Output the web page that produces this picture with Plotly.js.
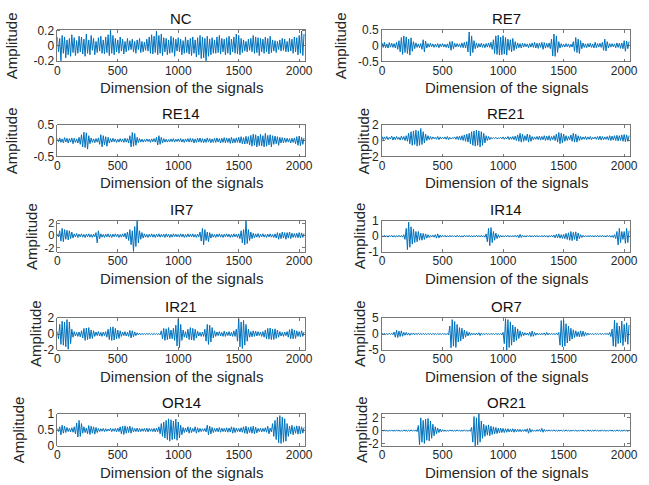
<!DOCTYPE html>
<html><head><meta charset="utf-8">
<script src="https://cdn.plot.ly/plotly-3.0.1.min.js"></script>
<style>html,body{margin:0;padding:0;background:#fff}#chart{width:649px;height:485px}</style>
</head><body><div id="chart"></div>
<script>
// Vibration signals: one value every 10 samples (0..2040)
const signalNames = ["NC","RE7","RE14","RE21","IR7","IR14","IR21","OR7","OR14","OR21"];
const sampleStep = 10;

const nc = [
0.12,-0.08,0.1,-0.2,0.14,-0.1,0.12,-0.16,0.08,-0.12,
0.1,-0.14,0.15,-0.09,0.11,-0.13,0.07,-0.1,0.13,-0.08,
0.12,-0.11,0.09,-0.14,0.16,-0.1,0.08,-0.12,0.14,-0.06,
0.1,-0.12,0.06,-0.09,0.11,-0.07,0.13,-0.1,0.08,-0.11,
0.12,-0.09,0.15,-0.13,0.21,-0.1,0.14,-0.12,0.1,-0.08,
0.08,-0.1,0.12,-0.07,0.09,-0.11,0.06,-0.08,0.1,-0.06,
0.07,-0.05,0.09,-0.08,0.06,-0.1,0.08,-0.05,0.1,-0.09,
0.06,-0.08,0.05,-0.06,0.09,-0.07,0.12,-0.1,0.15,-0.11,
0.13,-0.09,0.2,-0.12,0.14,-0.1,0.16,-0.13,0.11,-0.08,
0.1,-0.12,0.08,-0.1,0.13,-0.09,0.11,-0.14,0.09,-0.07,
0.11,-0.08,0.09,-0.12,0.07,-0.1,0.12,-0.09,0.08,-0.11,
0.1,-0.13,0.12,-0.1,0.08,-0.15,0.11,-0.12,0.14,-0.17,
0.12,-0.16,0.1,-0.2,0.13,-0.14,0.09,-0.12,0.11,-0.1,
0.08,-0.1,0.12,-0.09,0.14,-0.11,0.1,-0.08,0.09,-0.12,
0.11,-0.1,0.13,-0.12,0.09,-0.08,0.12,-0.1,0.16,-0.11,
0.14,-0.12,0.1,-0.09,0.08,-0.07,0.06,-0.08,0.09,-0.06,
0.1,-0.08,0.14,-0.1,0.12,-0.09,0.11,-0.13,0.1,-0.08,
0.09,-0.1,0.12,-0.08,0.1,-0.11,0.13,-0.09,0.08,-0.07,
0.07,-0.09,0.06,-0.05,0.08,-0.07,0.1,-0.06,0.09,-0.08,
0.06,-0.08,0.1,-0.07,0.09,-0.1,0.12,-0.08,0.11,-0.12,
0.14,-0.1,0.2,-0.13,0.16];

const re7 = [
0.08,-0.06,0.1,-0.07,0.05,-0.08,0.09,-0.05,0.07,-0.06,
0.06,-0.08,0.1,-0.12,0.15,-0.2,0.25,-0.28,0.3,-0.22,
0.27,-0.25,0.2,-0.3,0.24,-0.18,0.12,-0.1,0.08,-0.06,
0.05,-0.07,0.06,-0.12,0.18,-0.2,0.14,-0.08,0.06,-0.05,
0.07,-0.04,0.05,-0.06,0.04,-0.05,0.06,-0.07,0.05,-0.04,
0.06,-0.05,0.04,-0.06,0.05,-0.08,0.12,-0.15,0.13,-0.1,
0.07,-0.05,0.06,-0.04,0.05,-0.06,0.08,-0.07,0.1,-0.08,
0.12,-0.2,0.42,-0.32,0.3,-0.22,0.15,-0.1,0.08,-0.07,
0.06,-0.05,0.07,-0.06,0.05,-0.07,0.06,-0.05,0.08,-0.06,
0.1,-0.12,0.18,-0.25,0.3,-0.28,0.32,-0.3,0.26,-0.29,
0.31,-0.27,0.25,-0.3,0.2,-0.15,0.18,-0.2,0.22,-0.16,
0.12,-0.1,0.08,-0.07,0.06,-0.08,0.07,-0.05,0.06,-0.04,
0.05,-0.07,0.06,-0.05,0.08,-0.06,0.1,-0.08,0.07,-0.09,
0.08,-0.06,0.1,-0.12,0.09,-0.08,0.07,-0.06,0.08,-0.1,
0.2,-0.33,0.36,-0.34,0.3,-0.22,0.12,-0.08,0.06,-0.05,
0.04,-0.05,0.06,-0.04,0.05,-0.06,0.04,-0.05,0.12,-0.18,
0.25,-0.22,0.2,-0.25,0.15,-0.1,0.08,-0.06,0.05,-0.07,
0.06,-0.05,0.07,-0.06,0.05,-0.08,0.1,-0.07,0.06,-0.05,
0.07,-0.06,0.1,-0.15,0.2,-0.17,0.12,-0.08,0.06,-0.05,
0.06,-0.04,0.05,-0.07,0.08,-0.06,0.07,-0.09,0.08,-0.1,
0.15,-0.18,0.14,-0.1,0.12];

const re14 = [
0.06,-0.04,0.08,-0.06,0.05,-0.07,0.09,-0.05,0.07,-0.08,
0.06,-0.05,0.08,-0.1,0.07,-0.06,0.05,-0.08,0.1,-0.12,
0.18,-0.2,0.26,-0.22,0.24,-0.27,0.15,-0.1,0.08,-0.06,
0.05,-0.07,0.06,-0.05,0.08,-0.12,0.18,-0.2,0.15,-0.14,
0.12,-0.18,0.1,-0.08,0.06,-0.05,0.07,-0.04,0.05,-0.06,
0.04,-0.05,0.06,-0.04,0.05,-0.06,0.07,-0.05,0.06,-0.08,
0.15,-0.2,0.25,-0.18,0.22,-0.15,0.1,-0.07,0.06,-0.05,
0.04,-0.05,0.03,-0.04,0.05,-0.03,0.04,-0.06,0.05,-0.04,
0.06,-0.05,0.1,-0.14,0.15,-0.12,0.1,-0.08,0.06,-0.05,
0.04,-0.05,0.03,-0.04,0.05,-0.04,0.06,-0.05,0.04,-0.03,
0.05,-0.04,0.06,-0.05,0.04,-0.06,0.05,-0.04,0.06,-0.05,
0.07,-0.05,0.06,-0.08,0.05,-0.06,0.07,-0.05,0.08,-0.06,
0.06,-0.07,0.05,-0.06,0.08,-0.05,0.06,-0.07,0.05,-0.06,
0.07,-0.06,0.08,-0.05,0.06,-0.08,0.07,-0.06,0.09,-0.07,
0.08,-0.06,0.07,-0.09,0.1,-0.08,0.06,-0.07,0.08,-0.06,
0.1,-0.08,0.12,-0.1,0.09,-0.11,0.13,-0.1,0.12,-0.14,
0.16,-0.18,0.2,-0.15,0.18,-0.2,0.14,-0.16,0.19,-0.17,
0.15,-0.2,0.22,-0.18,0.16,-0.14,0.18,-0.2,0.15,-0.12,
0.14,-0.1,0.12,-0.15,0.1,-0.08,0.09,-0.07,0.08,-0.06,
0.07,-0.05,0.06,-0.08,0.07,-0.06,0.08,-0.1,0.12,-0.15,
0.14,-0.16,0.1,-0.12,0.08];

const re21 = [
0.5,0.1,0.45,0.15,0.5,0.1,0.4,0.2,0.55,0.05,
0.45,0.1,0.5,0.15,0.4,0.05,0.55,0.1,0.5,0.0,
0.6,-0.1,0.9,-0.4,1.1,-0.6,1.2,-0.5,1.3,-0.7,
1.2,-0.6,1.5,-0.5,1.1,-0.3,0.8,0.0,0.6,0.1,
0.5,0.15,0.45,0.2,0.4,0.15,0.5,0.1,0.45,0.2,
0.4,0.2,0.45,0.15,0.5,0.1,0.4,0.2,0.35,0.25,
0.45,0.15,0.5,0.1,0.55,0.05,0.6,0.0,0.7,-0.1,
0.8,-0.2,0.9,-0.4,1.1,-0.6,1.2,-0.7,1.3,-0.6,
1.2,-0.8,1.1,-0.6,0.9,-0.3,0.6,0.0,0.5,0.1,
0.4,0.2,0.35,0.25,0.4,0.2,0.35,0.25,0.4,0.2,
0.45,0.15,0.4,0.2,0.5,0.1,0.45,0.15,0.5,0.1,
0.55,0.0,0.7,-0.1,0.9,-0.2,0.8,-0.1,0.6,0.0,
0.8,-0.2,0.7,-0.1,0.5,0.1,0.45,0.15,0.5,0.1,
0.55,0.05,0.5,0.1,0.6,0.0,0.55,0.05,0.6,0.0,
0.5,0.1,0.6,0.0,0.8,-0.2,1.0,-0.4,0.9,-0.3,
0.8,-0.1,0.6,0.0,0.5,0.1,0.7,-0.1,0.9,-0.2,
0.8,-0.2,0.6,0.0,0.5,0.1,0.45,0.15,0.5,0.1,
0.45,0.15,0.5,0.1,0.4,0.2,0.45,0.15,0.5,0.1,
0.55,0.05,0.5,0.1,0.45,0.15,0.5,0.05,0.6,0.0,
0.55,0.05,0.6,0.0,0.65,-0.05,0.6,0.0,0.7,-0.1,
0.75,-0.15,0.7,-0.1,0.6];

const ir7 = [
0.3,-0.2,0.8,-0.9,1.2,-1.0,1.0,-0.6,0.9,-0.7,
0.8,-0.5,0.6,-0.4,0.3,-0.2,0.35,-0.3,0.25,-0.2,
0.3,-0.25,0.2,-0.3,0.25,-0.2,0.3,-0.25,0.2,-0.3,
0.25,-0.2,0.5,-1.2,0.8,-0.5,0.3,-0.25,0.2,-0.3,
0.25,-0.2,0.3,-0.25,0.2,-0.3,0.25,-0.2,0.3,-0.2,
0.25,-0.3,0.2,-0.25,0.3,-0.2,0.4,-0.5,0.6,-0.8,
1.0,-1.5,0.8,-2.6,1.5,-1.8,2.5,-1.2,0.8,-0.6,
0.5,-0.4,0.3,-0.25,0.2,-0.3,0.25,-0.2,0.3,-0.25,
0.2,-0.3,0.25,-0.2,0.3,-0.25,0.2,-0.2,0.25,-0.3,
0.3,-0.2,0.25,-0.3,0.2,-0.25,0.3,-0.2,0.25,-0.2,
0.2,-0.25,0.3,-0.2,0.25,-0.3,0.2,-0.25,0.3,-0.2,
0.25,-0.2,0.3,-0.25,0.2,-0.3,0.25,-0.2,0.6,-0.9,
1.2,-1.5,1.0,-0.8,0.6,-1.0,0.5,-0.4,0.3,-0.25,
0.2,-0.3,0.25,-0.2,0.3,-0.25,0.2,-0.3,0.25,-0.2,
0.3,-0.2,0.25,-0.3,0.2,-0.25,0.3,-0.2,0.25,-0.3,
0.3,-0.5,0.8,-1.2,1.0,-1.5,2.5,-1.3,1.0,-0.8,
0.6,-0.5,0.4,-0.35,0.3,-0.25,0.35,-0.3,0.25,-0.2,
0.3,-0.25,0.2,-0.3,0.25,-0.2,0.3,-0.25,0.2,-0.3,
0.3,-0.4,0.5,-0.6,0.4,-0.5,0.6,-0.4,0.5,-0.6,
0.5,-0.4,0.6,-0.5,0.4,-0.3,0.35,-0.3,0.4,-0.35,
0.5,-0.4,0.45,-0.3,0.35];

const ir14 = [
0.05,-0.04,0.06,-0.05,0.04,-0.06,0.05,-0.04,0.06,-0.05,
0.05,-0.06,0.04,-0.05,0.06,-0.04,0.05,-0.06,0.1,-0.2,
0.5,-0.85,0.9,-0.7,0.6,-0.5,0.45,-0.4,0.3,-0.35,
0.3,-0.25,0.2,-0.25,0.18,-0.2,0.15,-0.12,0.1,-0.08,
0.06,-0.05,0.07,-0.06,0.1,-0.12,0.15,-0.1,0.08,-0.06,
0.05,-0.04,0.06,-0.05,0.04,-0.05,0.06,-0.04,0.05,-0.04,
0.04,-0.05,0.06,-0.04,0.05,-0.06,0.04,-0.05,0.06,-0.04,
0.05,-0.04,0.06,-0.05,0.04,-0.05,0.05,-0.04,0.06,-0.05,
0.05,-0.04,0.06,-0.05,0.04,-0.06,0.15,-0.35,0.5,-0.6,
0.55,-0.4,0.3,-0.25,0.2,-0.15,0.1,-0.08,0.06,-0.05,
0.04,-0.05,0.05,-0.04,0.06,-0.05,0.04,-0.05,0.05,-0.04,
0.06,-0.05,0.08,-0.1,0.12,-0.08,0.06,-0.05,0.04,-0.05,
0.05,-0.04,0.06,-0.05,0.04,-0.05,0.06,-0.04,0.05,-0.05,
0.04,-0.05,0.05,-0.04,0.06,-0.05,0.04,-0.06,0.05,-0.04,
0.06,-0.05,0.08,-0.1,0.12,-0.1,0.15,-0.12,0.1,-0.14,
0.12,-0.15,0.18,-0.2,0.22,-0.25,0.3,-0.28,0.25,-0.2,
0.28,-0.3,0.2,-0.15,0.1,-0.08,0.06,-0.05,0.04,-0.05,
0.05,-0.04,0.06,-0.05,0.04,-0.05,0.05,-0.04,0.06,-0.05,
0.05,-0.04,0.06,-0.05,0.04,-0.05,0.06,-0.04,0.05,-0.06,
0.05,-0.08,0.1,-0.15,0.3,-0.55,0.5,-0.4,0.3,-0.2,
0.3,-0.45,0.5,-0.4,0.35];

const ir21 = [
0.3,-0.6,1.2,-1.3,1.6,-1.4,1.5,-1.6,1.8,-1.9,
1.5,-1.2,0.6,-0.4,0.3,-0.25,0.2,-0.3,0.25,-0.35,
0.4,-0.5,0.7,-0.8,0.75,-0.7,0.8,-0.6,0.5,-0.55,
0.4,-0.3,0.25,-0.2,0.3,-0.25,0.2,-0.3,0.25,-0.2,
0.3,-0.4,0.6,-0.7,0.85,-0.8,0.9,-0.75,0.7,-0.6,
0.5,-0.55,0.4,-0.3,0.25,-0.2,0.3,-0.25,0.2,-0.3,
0.45,-0.5,0.4,-0.35,0.25,-0.2,0.15,-0.12,0.1,-0.1,
0.08,-0.07,0.06,-0.08,0.07,-0.06,0.08,-0.07,0.06,-0.08,
0.07,-0.06,0.08,-0.07,0.06,-0.1,0.4,-0.6,0.7,-0.8,
0.65,-0.7,0.8,-0.6,0.5,-0.6,0.7,-0.8,1.1,-1.5,
1.9,-1.7,1.2,-0.8,0.5,-0.4,0.3,-0.5,0.6,-0.7,
0.8,-0.75,0.7,-0.8,0.6,-0.5,0.35,-0.25,0.2,-0.3,
0.25,-0.3,0.6,-0.9,1.2,-1.3,1.1,-1.0,0.8,-0.5,
0.4,-0.3,0.25,-0.2,0.3,-0.25,0.2,-0.3,0.35,-0.3,
0.25,-0.2,0.3,-0.25,0.2,-0.3,0.4,-0.3,0.6,-0.9,
1.9,-1.6,1.5,-1.8,1.7,-1.4,1.2,-0.9,0.6,-0.4,
0.3,-0.35,0.4,-0.3,0.35,-0.25,0.3,-0.2,0.25,-0.3,
0.3,-0.4,0.5,-0.6,0.7,-0.65,0.75,-0.7,0.6,-0.7,
0.65,-0.55,0.5,-0.4,0.3,-0.25,0.2,-0.3,0.25,-0.2,
0.3,-0.4,0.55,-0.6,0.65,-0.6,0.5,-0.55,0.4,-0.3,
0.3,-0.35,0.4,-0.3,0.25];

const or7 = [
0.2,-0.15,0.25,-0.2,0.15,-0.2,0.25,-0.15,0.2,-0.25,
0.6,-1.0,1.2,-1.1,0.9,-0.8,1.0,-0.7,0.5,-0.4,
0.5,-0.35,0.3,-0.4,0.25,-0.2,0.3,-0.25,0.2,-0.15,
0.2,-0.15,0.15,-0.2,0.2,-0.15,0.15,-0.2,0.2,-0.15,
0.15,-0.2,0.2,-0.15,0.15,-0.2,0.2,-0.15,0.15,-0.2,
0.2,-0.15,0.15,-0.2,0.2,-0.3,2.5,-4.3,4.5,-3.8,
3.9,-4.2,3.0,-2.5,2.0,-2.2,1.8,-1.5,1.2,-1.0,
0.8,-0.6,0.5,-0.4,0.3,-0.25,0.2,-0.3,0.3,-0.25,
0.4,-0.5,0.3,-0.2,0.15,-0.2,0.2,-0.15,0.15,-0.2,
0.2,-0.15,0.15,-0.2,0.2,-0.15,0.15,-0.2,0.2,-0.3,
0.5,-3.0,4.8,-5.0,4.5,-4.2,3.8,-3.5,2.8,-2.5,
2.2,-2.0,1.6,-1.4,1.0,-0.8,0.6,-0.5,0.4,-0.3,
0.3,-0.4,0.6,-0.8,0.9,-0.7,0.5,-0.4,0.3,-0.25,
0.2,-0.3,0.25,-0.2,0.3,-0.4,0.5,-0.3,0.25,-0.2,
0.2,-0.15,0.15,-0.2,0.25,-0.3,0.5,-3.5,4.2,-4.0,
4.3,-3.8,3.2,-2.8,2.5,-2.2,1.8,-1.6,1.3,-1.1,
1.0,-0.8,0.7,-0.9,1.0,-0.8,0.9,-0.7,0.5,-0.4,
0.3,-0.25,0.2,-0.15,0.15,-0.2,0.2,-0.15,0.15,-0.2,
0.2,-0.15,0.15,-0.2,0.2,-0.15,0.2,-0.3,0.5,-0.8,
1.5,-3.8,4.3,-4.0,3.5,-3.0,2.5,-2.8,4.0,-3.6,
3.0,-2.4,3.5,-3.2,2.8];

const or14 = [
0.55,0.45,0.6,0.35,0.65,0.4,0.62,0.42,0.58,0.45,
0.55,0.44,0.57,0.43,0.6,0.38,0.72,0.28,0.8,0.3,
0.7,0.4,0.6,0.42,0.56,0.38,0.64,0.36,0.62,0.4,
0.6,0.37,0.58,0.42,0.55,0.45,0.54,0.46,0.55,0.45,
0.54,0.46,0.53,0.47,0.55,0.45,0.54,0.46,0.55,0.44,
0.56,0.45,0.6,0.38,0.62,0.36,0.63,0.4,0.6,0.42,
0.62,0.4,0.58,0.44,0.55,0.45,0.56,0.44,0.55,0.45,
0.54,0.46,0.55,0.45,0.56,0.44,0.55,0.46,0.54,0.45,
0.55,0.44,0.56,0.45,0.6,0.38,0.7,0.3,0.75,0.25,
0.8,0.2,0.85,0.15,0.82,0.2,0.78,0.22,0.84,0.18,
0.75,0.25,0.65,0.35,0.58,0.42,0.56,0.44,0.6,0.4,
0.58,0.42,0.55,0.45,0.6,0.4,0.57,0.43,0.55,0.45,
0.54,0.46,0.55,0.44,0.65,0.35,0.62,0.38,0.58,0.42,
0.55,0.45,0.56,0.44,0.58,0.43,0.56,0.45,0.55,0.44,
0.57,0.43,0.56,0.44,0.6,0.4,0.58,0.42,0.56,0.45,
0.55,0.44,0.57,0.43,0.6,0.4,0.62,0.38,0.58,0.42,
0.6,0.4,0.62,0.38,0.59,0.41,0.55,0.45,0.56,0.44,
0.55,0.45,0.57,0.43,0.62,0.38,0.56,0.44,0.7,0.3,
0.8,0.2,0.9,0.1,0.95,0.08,0.9,0.12,0.85,0.15,
0.7,0.3,0.62,0.38,0.65,0.35,0.6,0.4,0.63,0.37,
0.62,0.38,0.6,0.4,0.58];

const or21 = [
0.1,-0.08,0.12,-0.1,0.08,-0.12,0.1,-0.08,0.12,-0.1,
0.08,-0.1,0.12,-0.08,0.1,-0.12,0.08,-0.1,0.12,-0.08,
0.1,-0.12,0.08,-0.1,0.12,-0.08,0.1,-0.1,0.12,-0.15,
0.8,-2.2,2.0,-1.8,1.6,-2.0,1.8,-1.5,1.9,-1.6,
1.5,-1.2,1.0,-0.8,0.6,-0.5,0.4,-0.3,0.25,-0.2,
0.15,-0.12,0.1,-0.12,0.08,-0.1,0.12,-0.08,0.1,-0.12,
0.08,-0.1,0.12,-0.08,0.1,-0.12,0.08,-0.1,0.12,-0.08,
0.1,-0.12,0.08,-0.1,0.5,-1.8,2.2,-2.4,2.0,-2.2,
2.6,-1.8,1.5,-1.2,1.0,-0.9,0.8,-0.7,0.9,-0.8,
0.7,-0.6,0.6,-0.5,0.5,-0.45,0.4,-0.35,0.4,-0.3,
0.35,-0.3,0.3,-0.25,0.3,-0.2,0.25,-0.2,0.3,-0.25,
0.25,-0.2,0.2,-0.15,0.2,-0.18,0.15,-0.12,0.2,-0.15,
0.3,-0.4,0.35,-0.25,0.15,-0.12,0.1,-0.12,0.15,-0.1,
0.2,-0.15,0.35,-0.25,0.2,-0.12,0.1,-0.08,0.12,-0.1,
0.1,-0.08,0.12,-0.1,0.08,-0.12,0.1,-0.08,0.12,-0.1,
0.08,-0.1,0.12,-0.08,0.1,-0.12,0.08,-0.1,0.12,-0.08,
0.1,-0.12,0.08,-0.1,0.12,-0.08,0.1,-0.12,0.08,-0.1,
0.12,-0.08,0.1,-0.12,0.08,-0.1,0.12,-0.08,0.1,-0.12,
0.08,-0.1,0.12,-0.08,0.1,-0.12,0.08,-0.1,0.12,-0.08,
0.1,-0.12,0.08,-0.1,0.12,-0.08,0.1,-0.12,0.08,-0.1,
0.12,-0.08,0.1,-0.12,0.08];

const signals = [nc, re7, re14, re21, ir7, ir14, ir21, or7, or14, or21];

const xTickVals = [0, 500, 1000, 1500, 2000];
const xTickText = ["0", "500", "1000", "1500", "2000"];
const yTickVals = [[-0.2,0,0.2],[-0.5,0,0.5],[-0.5,0,0.5],[-2,0,2],[-2,0,2],[-1,0,1],[-2,0,2],[-5,0,5],[0,0.5,1],[-2,0,2]];
const yTickText = [["-0.2","0","0.2"],["-0.5","0","0.5"],["-0.5","0","0.5"],["-2","0","2"],["-2","0","2"],["-1","0","1"],["-2","0","2"],["-5","0","5"],["0","0.5","1"],["-2","0","2"]];

// ---- layout ----
const W = 649, H = 485;
const FONT = "Liberation Sans, Arial, Helvetica, sans-serif";
const TXT = "#262626";
const colPx = [[57.3, 305], [382, 630]];
const rowPx = [[29.5, 61.5], [124.5, 156.5], [220.5, 252], [318, 350], [414, 446]];
const yRanges = [[-0.21,0.22],[-0.5,0.5],[-0.5,0.5],[-2,2],[-2.7,2.5],[-1,1],[-2,2],[-5,5],[0,1],[-2.4,2.6]];
const yTickSize = [12, 12, 12, 12, 11, 12, 12, 12, 12, 12];
const yTitleX = [11.7, 340.7, 11.7, 363, 31.7, 359, 35, 359, 18.3, 361];

const data = [];
const layout = {
  width: W, height: H,
  margin: {l: 0, r: 0, t: 0, b: 0},
  paper_bgcolor: "#fff", plot_bgcolor: "#fff",
  showlegend: false,
  font: {family: FONT, color: TXT},
  annotations: []
};

signals.forEach((sig, k) => {
  const row = Math.floor(k / 2), col = k % 2;
  const s = k === 0 ? "" : String(k + 1);
  const [x0, x1] = colPx[col];
  const [y0, y1] = rowPx[row];
  data.push({
    type: "scatter", mode: "lines",
    x: sig.map((_, i) => i * sampleStep), y: sig,
    line: {color: "#0072BD", width: 1},
    xaxis: "x" + s, yaxis: "y" + s,
    hoverinfo: "skip", cliponaxis: true
  });
  const common = {
    showgrid: false, zeroline: false, showline: true,
    linecolor: "#555", linewidth: 0.8, mirror: "ticks",
    ticks: "inside", ticklen: 3, tickwidth: 0.8, tickcolor: "#555",
    fixedrange: true
  };
  layout["xaxis" + s] = Object.assign({}, common, {
    domain: [x0 / W, x1 / W], anchor: "y" + s,
    range: [0, 2048], tickmode: "array", tickvals: xTickVals, ticktext: xTickText,
    tickfont: {family: FONT, size: 12, color: TXT},
    ticklabelstandoff: -2
  });
  layout["yaxis" + s] = Object.assign({}, common, {
    domain: [1 - y1 / H, 1 - y0 / H], anchor: "x" + s,
    range: yRanges[k], tickmode: "array", tickvals: yTickVals[k], ticktext: yTickText[k],
    tickfont: {family: FONT, size: yTickSize[k], color: TXT}
  });
  const cx = (x0 + x1) / 2;
  layout.annotations.push(
    {text: signalNames[k], x: cx / W, y: 1 - (y0 - 11.2) / H, xref: "paper", yref: "paper",
     xanchor: "center", yanchor: "middle", showarrow: false, font: {size: 15, color: "#111", family: FONT}},
    {text: "Dimension of the signals", x: cx / W, y: 1 - (y1 + 26) / H, xref: "paper", yref: "paper",
     xanchor: "center", yanchor: "middle", showarrow: false, font: {size: 15, color: TXT, family: FONT}},
    {text: "Amplitude", x: yTitleX[k] / W, y: 1 - ((y0 + y1) / 2) / H, xref: "paper", yref: "paper",
     xanchor: "center", yanchor: "middle", textangle: -90, showarrow: false, font: {size: 15, color: TXT, family: FONT}}
  );
});

Plotly.newPlot("chart", data, layout, {displayModeBar: false, staticPlot: true});
</script>
</body></html>
